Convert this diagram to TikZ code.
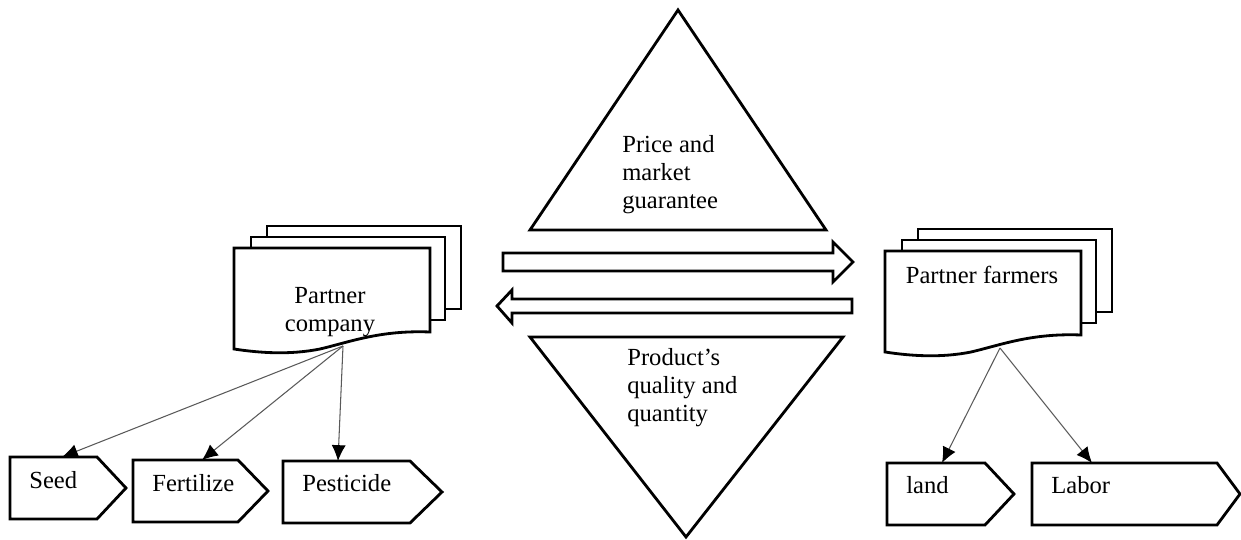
\documentclass[tikz,border=0pt]{standalone}
\usepackage{fontspec}
\setmainfont{Liberation Serif}
\usetikzlibrary{arrows.meta}

\begin{document}
\begin{tikzpicture}[x=0.02cm,y=-0.02cm,
	shp/.style={line width=1.6pt,line join=miter,fill=white},
	txt/.style={font=\fontsize{14}{16}\selectfont,inner sep=0pt},
	link/.style={black!65,line width=0.6pt,-{Latex[black,length=9pt,width=8pt]}}]

	\useasboundingbox (0,0) rectangle (1241,540);

	\draw[shp] (678,10) -- (826,230) -- (530,230) -- cycle;
	\draw[shp] (530,337) -- (843,337) -- (686,537) -- cycle;
	\node[txt,align=left,anchor=west] (price) at (622,175) {Price and\\market\\guarantee};
	\node[txt,align=left,anchor=west] (quality) at (627,388) {Product's\\quality and\\quantity};

	\draw[shp] (503,253) -- (833,253) -- (833,242) -- (853,262) -- (833,282) -- (833,271) -- (503,271) -- cycle;
	\draw[shp] (852,299) -- (512,299) -- (512,290) -- (497,306) -- (512,323) -- (512,313) -- (852,313) -- cycle;

	\foreach \sx/\sy in {0/0,651/3}{
	\begin{scope}[shift={(\sx,\sy)}]
	\draw[shp] (267,226) rectangle (461,309);
	\draw[shp] (251,237) rectangle (445,320);
	\draw[shp] (234,248) -- (430,248) -- (430,332) .. controls (380,330) and (350,342) .. (320,349)
		.. controls (290,355) and (260,353) .. (234,349) -- cycle;
	\end{scope}
	}
	\node[txt,align=center] (company) at (330,312) {Partner\\company};
	\node[txt] (farmers) at (982,275) {Partner farmers};
	\coordinate (company-out) at (343,346);
	\coordinate (farmers-out) at (1000,348);

	\foreach \nm/\l/\t/\r/\p/\b/\ax/\tx in {seed/10/457/97/126/519/62/Seed,
		fert/133/460/238/268/522/202/Fertilize,
		pest/283/461/410/442/523/338/Pesticide,
		land/887/463/985/1014/525/942/land,
		labor/1032/463/1217/1240/525/1092/Labor}{
	\draw[shp] (\l,\t) -- (\r,\t) -- (\p,{(\t+\b)/2}) -- (\r,\b) -- (\l,\b) -- cycle;
	\node[txt,anchor=base west] (\nm) at (\l+19,\t+31) {\tx};
	\coordinate (\nm-top) at (\ax,\t);
	}

	\foreach \nm in {seed,fert,pest}
		\draw[link] (company-out) -- (\nm-top);
	\foreach \nm in {land,labor}
		\draw[link] (farmers-out) -- (\nm-top);

\end{tikzpicture}
\end{document}
